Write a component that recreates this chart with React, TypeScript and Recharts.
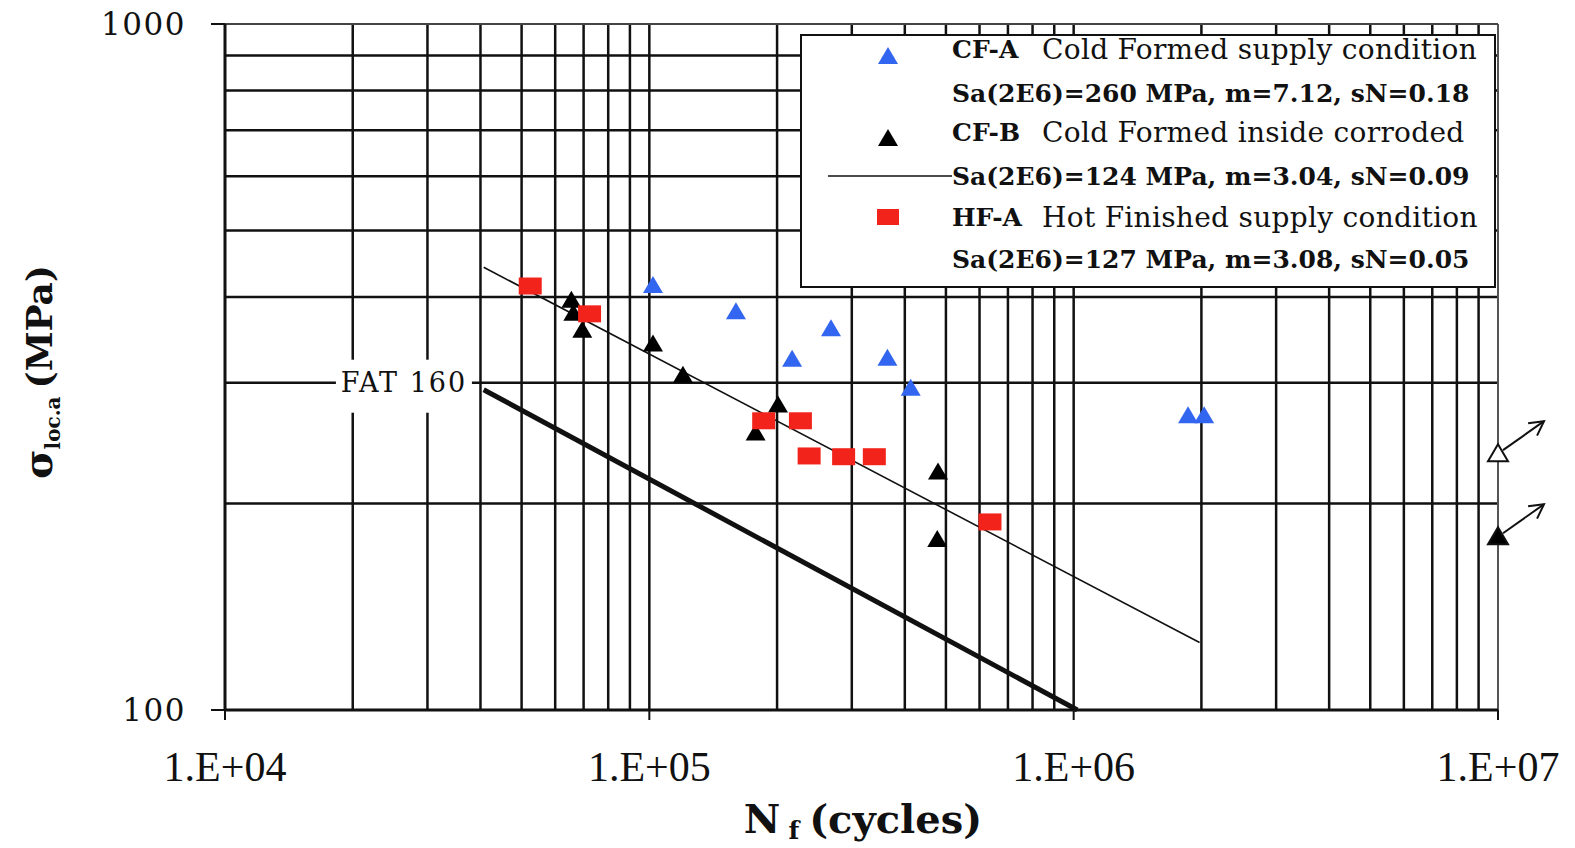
import { ReferenceDot, ReferenceLine, Scatter, ScatterChart, XAxis, YAxis } from "recharts";

// axis ticks and grid values
const xTicks = [1e4, 1e5, 1e6, 1e7];
const xTickLabels = ["1.E+04", "1.E+05", "1.E+06", "1.E+07"];
const yTicks = [100, 1000];
const xGrid = [
  2e4, 3e4, 4e4, 5e4, 6e4, 7e4, 8e4, 9e4, 1e5,
  2e5, 3e5, 4e5, 5e5, 6e5, 7e5, 8e5, 9e5, 1e6,
  2e6, 3e6, 4e6, 5e6, 6e6, 7e6, 8e6, 9e6,
];
const yGrid = [200, 300, 400, 500, 600, 700, 800, 900];

// CF-A: cold formed, supply condition
const cfA = [
  { n: 1.02e5, s: 415 },
  { n: 1.6e5, s: 380 },
  { n: 2.17e5, s: 324 },
  { n: 2.68e5, s: 359 },
  { n: 3.64e5, s: 325 },
  { n: 4.13e5, s: 294 },
  { n: 1.86e6, s: 268 },
  { n: 2.03e6, s: 268 },
];
const cfARunout = [{ n: 1e7, s: 236 }];

// CF-B: cold formed, inside corroded
const cfB = [
  { n: 6.55e4, s: 395 },
  { n: 6.62e4, s: 378 },
  { n: 6.95e4, s: 357 },
  { n: 1.02e5, s: 341 },
  { n: 1.2e5, s: 307 },
  { n: 2.01e5, s: 278 },
  { n: 1.78e5, s: 253 },
  { n: 4.79e5, s: 222 },
  { n: 4.77e5, s: 177 },
];
const cfBRunout = [{ n: 1e7, s: 178.6 }];

// HF-A: hot finished, supply condition
const hfA = [
  { n: 5.24e4, s: 415 },
  { n: 7.23e4, s: 378 },
  { n: 1.86e5, s: 264 },
  { n: 2.27e5, s: 264 },
  { n: 2.38e5, s: 234.6 },
  { n: 2.87e5, s: 234 },
  { n: 3.39e5, s: 234 },
  { n: 6.35e5, s: 188 },
];

// regression line (CF-B) and FAT 160 design line, end points
const fitLine = [
  { n: 4.07e4, s: 442 },
  { n: 1.98e6, s: 125.4 },
];
const fatLine = [
  { n: 4.07e4, s: 293 },
  { n: 1.02e6, s: 100 },
];
const fatLabel = { n: 2.64e4, s: 300, text: "FAT 160" };

const legendRows = [
  { key: "CF-A", desc: "Cold Formed supply condition", stats: "Sa(2E6)=260 MPa,  m=7.12, sN=0.18" },
  { key: "CF-B", desc: "Cold Formed inside corroded", stats: "Sa(2E6)=124 MPa, m=3.04, sN=0.09" },
  { key: "HF-A", desc: "Hot Finished supply condition", stats: "Sa(2E6)=127 MPa, m=3.08, sN=0.05" },
];

const BLUE = "#3366f0";
const RED = "#f2231b";
const INK = "#111";
const SERIF = "'DejaVu Serif', serif";

const triangle = (fill: string) => (p: any) => {
  const { cx, cy } = p;
  return <polygon points={`${cx - 10},${cy + 7} ${cx + 10},${cy + 7} ${cx},${cy - 10}`} fill={fill} />;
};

const square = (p: any) => (
  <rect x={p.cx - 11.5} y={p.cy - 8.5} width={23} height={17} fill={RED} />
);

const runout = (fill: string) => (p: any) => {
  const { cx, cy } = p;
  const tx = cx + 46;
  const ty = cy - 33;
  const ang = Math.atan2(ty - cy, tx - cx);
  const h1 = ang + Math.PI - 0.5;
  const h2 = ang + Math.PI + 0.5;
  return (
    <g>
      <line x1={cx + 5} y1={cy - 4} x2={tx} y2={ty} stroke={INK} strokeWidth={2} />
      <polyline
        points={`${tx + 16 * Math.cos(h1)},${ty + 16 * Math.sin(h1)} ${tx},${ty} ${tx + 16 * Math.cos(h2)},${ty + 16 * Math.sin(h2)}`}
        fill="none"
        stroke={INK}
        strokeWidth={2}
      />
      <polygon
        points={`${cx - 10},${cy + 7} ${cx + 10},${cy + 7} ${cx},${cy - 10}`}
        fill={fill}
        stroke={INK}
        strokeWidth={2}
      />
    </g>
  );
};

const noDot = () => <g />;

const XTick = (p: any) => {
  const i = xTicks.indexOf(p.payload.value);
  return (
    <text x={p.x} y={p.y + 61} textAnchor="middle" fontFamily="'Liberation Serif', serif" fontSize={42} fill={INK}>
      {xTickLabels[i]}
    </text>
  );
};

const YTick = (p: any) => (
  <text x={p.x} y={p.y + 11} textAnchor="end" fontFamily={SERIF} fontSize={31} letterSpacing={1.5} fill={INK}>
    {p.payload.value}
  </text>
);

const FatLabel = (p: any) => (
  <g>
    <rect x={p.cx - 68} y={p.cy - 23} width={136} height={53} fill="#fff" />
    <text x={p.cx} y={p.cy + 9} textAnchor="middle" fontFamily={SERIF} fontSize={27} letterSpacing={2} fill={INK}>
      {fatLabel.text}
    </text>
  </g>
);

function Legend() {
  const rowY = [13, 57, 96, 140, 181, 223];
  return (
    <div
      style={{
        position: "absolute",
        left: 800,
        top: 34,
        width: 692,
        height: 250,
        border: "2px solid #111",
        background: "#fff",
        overflow: "hidden",
      }}
    >
      <svg width={692} height={250}>
        <polygon points="76,28 96,28 86,11" fill={BLUE} />
        <polygon points="76,110 96,110 86,93" fill="#000" />
        <line x1={26} y1={140} x2={150} y2={140} stroke={INK} strokeWidth={1.5} />
        <rect x={75} y={173} width={22} height={16} fill={RED} />
        {legendRows.map((r, i) => (
          <g key={r.key} fontFamily={SERIF} fill={INK}>
            <text x={150} y={rowY[i * 2] + 9} fontSize={25} fontWeight="bold">
              {r.key}
            </text>
            <text x={240} y={rowY[i * 2] + 10} fontSize={28} letterSpacing={0.3}>
              {r.desc}
            </text>
            <text x={150} y={rowY[i * 2 + 1] + 9} fontSize={25} fontWeight="bold">
              {r.stats}
            </text>
          </g>
        ))}
      </svg>
    </div>
  );
}

export default function App() {
  return (
    <div style={{ position: "absolute", left: 0, top: 0, width: 1575, height: 848, background: "#fff" }}>
      <ScatterChart width={1575} height={848} margin={{ top: 24, right: 77, bottom: 38, left: 0 }}>
        <XAxis
          type="number"
          dataKey="n"
          scale="log"
          domain={[1e4, 1e7]}
          ticks={xTicks}
          tick={<XTick />}
          tickSize={10}
          tickMargin={0}
          height={100}
          axisLine={{ stroke: INK, strokeWidth: 3 }}
          tickLine={{ stroke: INK, strokeWidth: 2 }}
        />
        <YAxis
          type="number"
          dataKey="s"
          scale="log"
          domain={[100, 1000]}
          ticks={yTicks}
          tick={<YTick />}
          tickSize={14}
          tickMargin={25}
          width={225}
          axisLine={{ stroke: INK, strokeWidth: 3 }}
          tickLine={{ stroke: INK, strokeWidth: 2 }}
        />
        {xGrid.map((v) => (
          <ReferenceLine key={`x${v}`} x={v} stroke={INK} strokeWidth={2.5} />
        ))}
        {yGrid.map((v) => (
          <ReferenceLine key={`y${v}`} y={v} stroke={INK} strokeWidth={2.5} />
        ))}
        <ReferenceLine x={1e7} stroke="#555" strokeWidth={2} />
        <ReferenceLine y={1000} stroke="#444" strokeWidth={2} />
        <ReferenceDot x={fatLabel.n} y={fatLabel.s} r={0} shape={<FatLabel />} />
        <Scatter data={fatLine} line={{ stroke: INK, strokeWidth: 5 }} shape={noDot} isAnimationActive={false} />
        <Scatter data={fitLine} line={{ stroke: INK, strokeWidth: 1.6 }} shape={noDot} isAnimationActive={false} />
        <Scatter data={cfB} shape={triangle("#000")} isAnimationActive={false} />
        <Scatter data={cfA} shape={triangle(BLUE)} isAnimationActive={false} />
        <Scatter data={hfA} shape={square} isAnimationActive={false} />
        <Scatter data={cfARunout} shape={runout("#fff")} isAnimationActive={false} />
        <Scatter data={cfBRunout} shape={runout("#000")} isAnimationActive={false} />
      </ScatterChart>
      <svg width={1575} height={848} style={{ position: "absolute", left: 0, top: 0, pointerEvents: "none" }}>
        <text
          transform="translate(52, 372) rotate(-90)"
          textAnchor="middle"
          fontFamily={SERIF}
          fontWeight="bold"
          fill={INK}
        >
          <tspan fontSize={40}>σ</tspan>
          <tspan fontSize={20} dy={8}>loc.a</tspan>
          <tspan fontSize={36} dy={-8} dx={8}>(MPa)</tspan>
        </text>
        <text x={863} y={833} textAnchor="middle" fontFamily={SERIF} fontWeight="bold" fill={INK}>
          <tspan fontSize={40}>N</tspan>
          <tspan fontSize={25} dy={6} dx={8}>f</tspan>
          <tspan fontSize={40} dy={-6} dx={10}>(cycles)</tspan>
        </text>
      </svg>
      <Legend />
    </div>
  );
}
